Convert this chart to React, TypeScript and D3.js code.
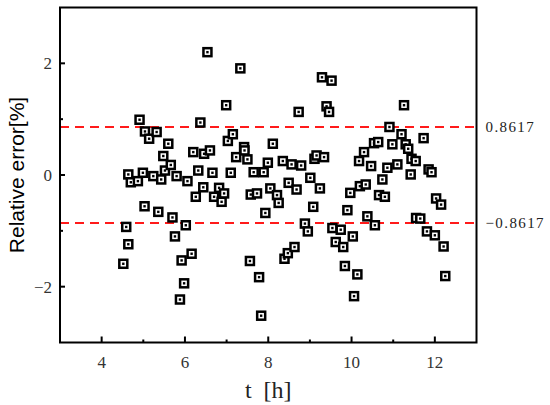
import * as d3 from "d3";

const tValues = [
  4.52, 4.59, 4.64, 4.64, 4.70, 4.87, 4.91, 4.99, 5.03, 5.04,
  5.14, 5.24, 5.32, 5.36, 5.43, 5.48, 5.52, 5.60, 5.66, 5.70,
  5.76, 5.80, 5.88, 5.92, 5.98, 6.02, 6.06, 6.16, 6.20, 6.26,
  6.32, 6.37, 6.44, 6.46, 6.54, 6.60, 6.66, 6.70, 6.82, 6.88,
  6.94, 6.99, 7.03, 7.10, 7.15, 7.23, 7.33, 7.42, 7.43, 7.50,
  7.56, 7.58, 7.65, 7.73, 7.78, 7.83, 7.89, 7.93, 7.99, 8.05,
  8.11, 8.21, 8.25, 8.35, 8.39, 8.47, 8.49, 8.56, 8.63, 8.68,
  8.73, 8.79, 8.88, 8.95, 9.01, 9.08, 9.11, 9.16, 9.24, 9.29,
  9.34, 9.40, 9.46, 9.52, 9.54, 9.62, 9.74, 9.80, 9.84, 9.90,
  9.97, 10.03, 10.06, 10.14, 10.18, 10.20, 10.30, 10.34, 10.38, 10.47,
  10.54, 10.56, 10.64, 10.66, 10.74, 10.80, 10.86, 10.91, 10.98, 11.10,
  11.20, 11.26, 11.30, 11.36, 11.42, 11.44, 11.54, 11.55, 11.65, 11.73,
  11.81, 11.85, 11.92, 12.00, 12.03, 12.15, 12.21, 12.25,
];

const errValues = [
  -1.59, -0.93, -1.24, 0.01, -0.13, -0.11, 0.99, 0.04, -0.56, 0.78,
  0.65, -0.02, 0.77, -0.66, -0.08, 0.34, 0.08, 0.56, 0.18, -0.76,
  -1.10, -0.02, -2.23, -1.53, -1.94, -0.90, -0.11, -1.41, 0.41, -0.39,
  0.08, 0.94, -0.22, 0.38, 2.20, 0.44, 0.04, -0.39, -0.23, -0.48,
  -0.33, 1.25, 0.61, 0.04, 0.73, 0.32, 1.91, 0.50, 0.44, 0.28,
  -1.54, -0.35, 0.05, -0.33, -1.83, -2.52, 0.05, -0.68, 0.22, -0.24,
  0.56, -0.36, -0.50, 0.25, -1.50, -1.40, -0.14, 0.19, -1.29, -0.26,
  1.13, 0.17, -0.87, -1.01, -0.05, -0.57, 0.29, 0.35, -0.24, 1.75,
  0.32, 1.23, 1.13, 1.69, -0.95, -1.20, -0.98, -1.29, -1.63, -0.63,
  -0.32, -1.10, -2.17, -1.78, 0.25, -0.20, 0.41, -0.17, -0.74, 0.16,
  0.57, -0.90, 0.59, -0.36, -0.08, -0.39, 0.13, 0.86, 0.55, 0.19,
  0.73, 1.25, 0.55, 0.47, 0.01, 0.29, 0.25, -0.77, -0.78, 0.66,
  -1.01, 0.10, 0.05, -1.08, -0.42, -0.53, -1.28, -1.81,
];

const xTicks = [4, 6, 8, 10, 12];
const xMinorTicks = [5, 7, 9, 11];
const yTicks = [-2, 0, 2];
const yMinorTicks = [-1, 1];
const limitValues = [0.8617, -0.8617];
const limitLabels = ["0.8617", "\u22120.8617"];

const W = 550;
const H = 405;
const plot = { left: 60, right: 476.5, top: 7.5, bottom: 342.5 };

export default function App() {
  const x = d3.scaleLinear().domain([3, 13]).range([plot.left, plot.right]);
  const y = d3.scaleLinear().domain([-3, 3]).range([plot.bottom, plot.top]);
  const fmt = (v: number) => (v < 0 ? "\u2212" + Math.abs(v) : String(v));
  const serif = "'Liberation Serif', 'DejaVu Serif', serif";

  const points = tValues.map((t, i) => ({ t, e: errValues[i] }));
  const size = 8;

  return (
    <svg
      width={W}
      height={H}
      style={{ position: "absolute", left: 0, top: 0, background: "#fff" }}
    >
      {/* limit lines */}
      {limitValues.map((v, i) => (
        <g key={"lim" + i}>
          <line
            x1={plot.left}
            x2={plot.right}
            y1={y(v)}
            y2={y(v)}
            stroke="#ff1a1a"
            strokeWidth={2}
            strokeDasharray="9,6"
          />
          <text
            x={plot.right + 9}
            y={y(v) + 5}
            fontFamily={serif}
            fontSize={15}
            letterSpacing={1.4}
            fill="#222"
          >
            {limitLabels[i]}
          </text>
        </g>
      ))}

      {/* markers */}
      {points.map((p, i) => (
        <g key={i} transform={`translate(${x(p.t)},${y(p.e)})`}>
          <rect
            x={-size / 2}
            y={-size / 2}
            width={size}
            height={size}
            fill="#fff"
            stroke="#000"
            strokeWidth={2.5}
          />
          <rect x={-1.2} y={-1.2} width={2.4} height={2.4} fill="#000" />
        </g>
      ))}

      {/* frame */}
      <rect
        x={plot.left}
        y={plot.top}
        width={plot.right - plot.left}
        height={plot.bottom - plot.top}
        fill="none"
        stroke="#000"
        strokeWidth={2}
      />

      {/* x ticks */}
      {xTicks.map(v => (
        <g key={"xt" + v}>
          <line x1={x(v)} x2={x(v)} y1={plot.bottom} y2={plot.bottom - 6} stroke="#000" strokeWidth={2} />
          <text
            x={x(v)}
            y={plot.bottom + 25}
            textAnchor="middle"
            fontFamily={serif}
            fontSize={17}
            fill="#333"
          >
            {fmt(v)}
          </text>
        </g>
      ))}
      {xMinorTicks.map(v => (
        <line key={"xm" + v} x1={x(v)} x2={x(v)} y1={plot.bottom} y2={plot.bottom - 3} stroke="#000" strokeWidth={2} />
      ))}

      {/* y ticks */}
      {yTicks.map(v => (
        <g key={"yt" + v}>
          <line x1={plot.left} x2={plot.left + 5} y1={y(v)} y2={y(v)} stroke="#000" strokeWidth={2} />
          <text
            x={plot.left - 8}
            y={y(v) + 6}
            textAnchor="end"
            fontFamily={serif}
            fontSize={17}
            fill="#333"
          >
            {fmt(v)}
          </text>
        </g>
      ))}
      {yMinorTicks.map(v => (
        <line key={"ym" + v} x1={plot.left} x2={plot.left + 3} y1={y(v)} y2={y(v)} stroke="#000" strokeWidth={2} />
      ))}

      {/* axis titles */}
      <text
        x={(plot.left + plot.right) / 2}
        y={398}
        textAnchor="middle"
        fontFamily={serif}
        fontSize={24}
        fill="#222"
        style={{ whiteSpace: "pre" }}
      >
        {"t  [h]"}
      </text>
      <text
        transform={`translate(24,${(plot.top + plot.bottom) / 2}) rotate(-90)`}
        textAnchor="middle"
        fontFamily="'Liberation Sans', Arial, sans-serif"
        fontSize={21}
        fill="#000"
      >
        Relative error[%]
      </text>
    </svg>
  );
}
